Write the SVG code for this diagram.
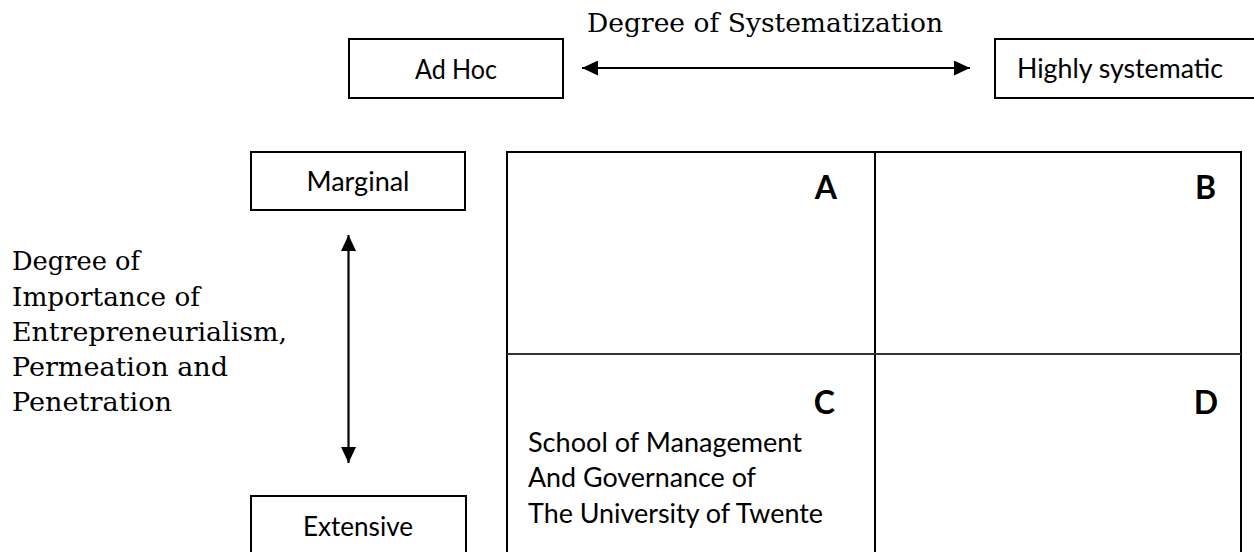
<svg xmlns="http://www.w3.org/2000/svg" width="1254" height="552" viewBox="0 0 1254 552">
<defs>
<style>
.box{fill:#fff;stroke:#000;stroke-width:2}
.lbl{font-family:Lato,"Open Sans","Liberation Sans",sans-serif;font-size:26px;fill:#000}
.ser{font-family:"DejaVu Serif","Liberation Serif",serif;font-size:25.5px;fill:#000}
.big{font-family:Lato,"Open Sans","Liberation Sans",sans-serif;font-size:32px;font-weight:bold;fill:#000}
.conn{stroke:#000;stroke-width:2.2;fill:none}
.grid{stroke:#000;stroke-width:2;fill:none}
</style>
<marker id="ah" viewBox="0 0 16 15" refX="16" refY="7.5" markerWidth="16" markerHeight="15" markerUnits="userSpaceOnUse" orient="auto-start-reverse">
<path d="M0,0 L16,7.5 L0,15 Z" fill="#000"/>
</marker>
</defs>
<rect width="1254" height="552" fill="#fff"/>

<text class="ser" x="587" y="32" textLength="356" lengthAdjust="spacingAndGlyphs">Degree of Systematization</text>

<g id="adhoc">
<rect class="box" x="349" y="39" width="214" height="59"/>
<text class="lbl" x="456" y="79" text-anchor="middle" textLength="82" lengthAdjust="spacingAndGlyphs">Ad Hoc</text>
</g>
<g id="highly">
<rect class="box" x="995" y="39" width="270" height="59"/>
<text class="lbl" x="1017" y="78" textLength="206" lengthAdjust="spacingAndGlyphs">Highly systematic</text>
</g>
<g id="marginal">
<rect class="box" x="251" y="152" width="214" height="58"/>
<text class="lbl" x="358" y="191" text-anchor="middle" textLength="103" lengthAdjust="spacingAndGlyphs">Marginal</text>
</g>
<g id="extensive">
<rect class="box" x="251" y="496" width="215" height="70"/>
<text class="lbl" x="358" y="535.5" text-anchor="middle" textLength="110" lengthAdjust="spacingAndGlyphs">Extensive</text>
</g>

<g id="vlabel">
<text class="ser" x="12" y="270" textLength="128" lengthAdjust="spacingAndGlyphs">Degree of</text>
<text class="ser" x="12" y="305.5" textLength="188" lengthAdjust="spacingAndGlyphs">Importance of</text>
<text class="ser" x="12" y="340.5" textLength="275" lengthAdjust="spacingAndGlyphs">Entrepreneurialism,</text>
<text class="ser" x="12" y="375.5" textLength="216" lengthAdjust="spacingAndGlyphs">Permeation and</text>
<text class="ser" x="12" y="411" textLength="160" lengthAdjust="spacingAndGlyphs">Penetration</text>
</g>

<g id="matrix">
<rect class="grid" x="507" y="152" width="734" height="420"/>
<line class="grid" x1="875" y1="152" x2="875" y2="552"/>
<line x1="507" y1="354" x2="1241" y2="354" stroke="#333" stroke-width="2"/>
</g>
<g id="cellA"><text class="big" x="837" y="199" text-anchor="end">A</text></g>
<g id="cellB"><text class="big" x="1216" y="199" text-anchor="end">B</text></g>
<g id="cellC">
<text class="big" x="835" y="414" text-anchor="end">C</text>
<text class="lbl" x="528" y="452" textLength="274" lengthAdjust="spacingAndGlyphs">School of Management</text>
<text class="lbl" x="528" y="487" textLength="228" lengthAdjust="spacingAndGlyphs">And Governance of</text>
<text class="lbl" x="528" y="522.5" textLength="295" lengthAdjust="spacingAndGlyphs">The University of Twente</text>
</g>
<g id="cellD"><text class="big" x="1218" y="414" text-anchor="end">D</text></g>

<g id="connectors">
<line class="conn" x1="582" y1="68" x2="970" y2="68" marker-start="url(#ah)" marker-end="url(#ah)"/>
<line class="conn" x1="348.5" y1="235" x2="348.5" y2="463" marker-start="url(#ah)" marker-end="url(#ah)"/>
</g>
</svg>
